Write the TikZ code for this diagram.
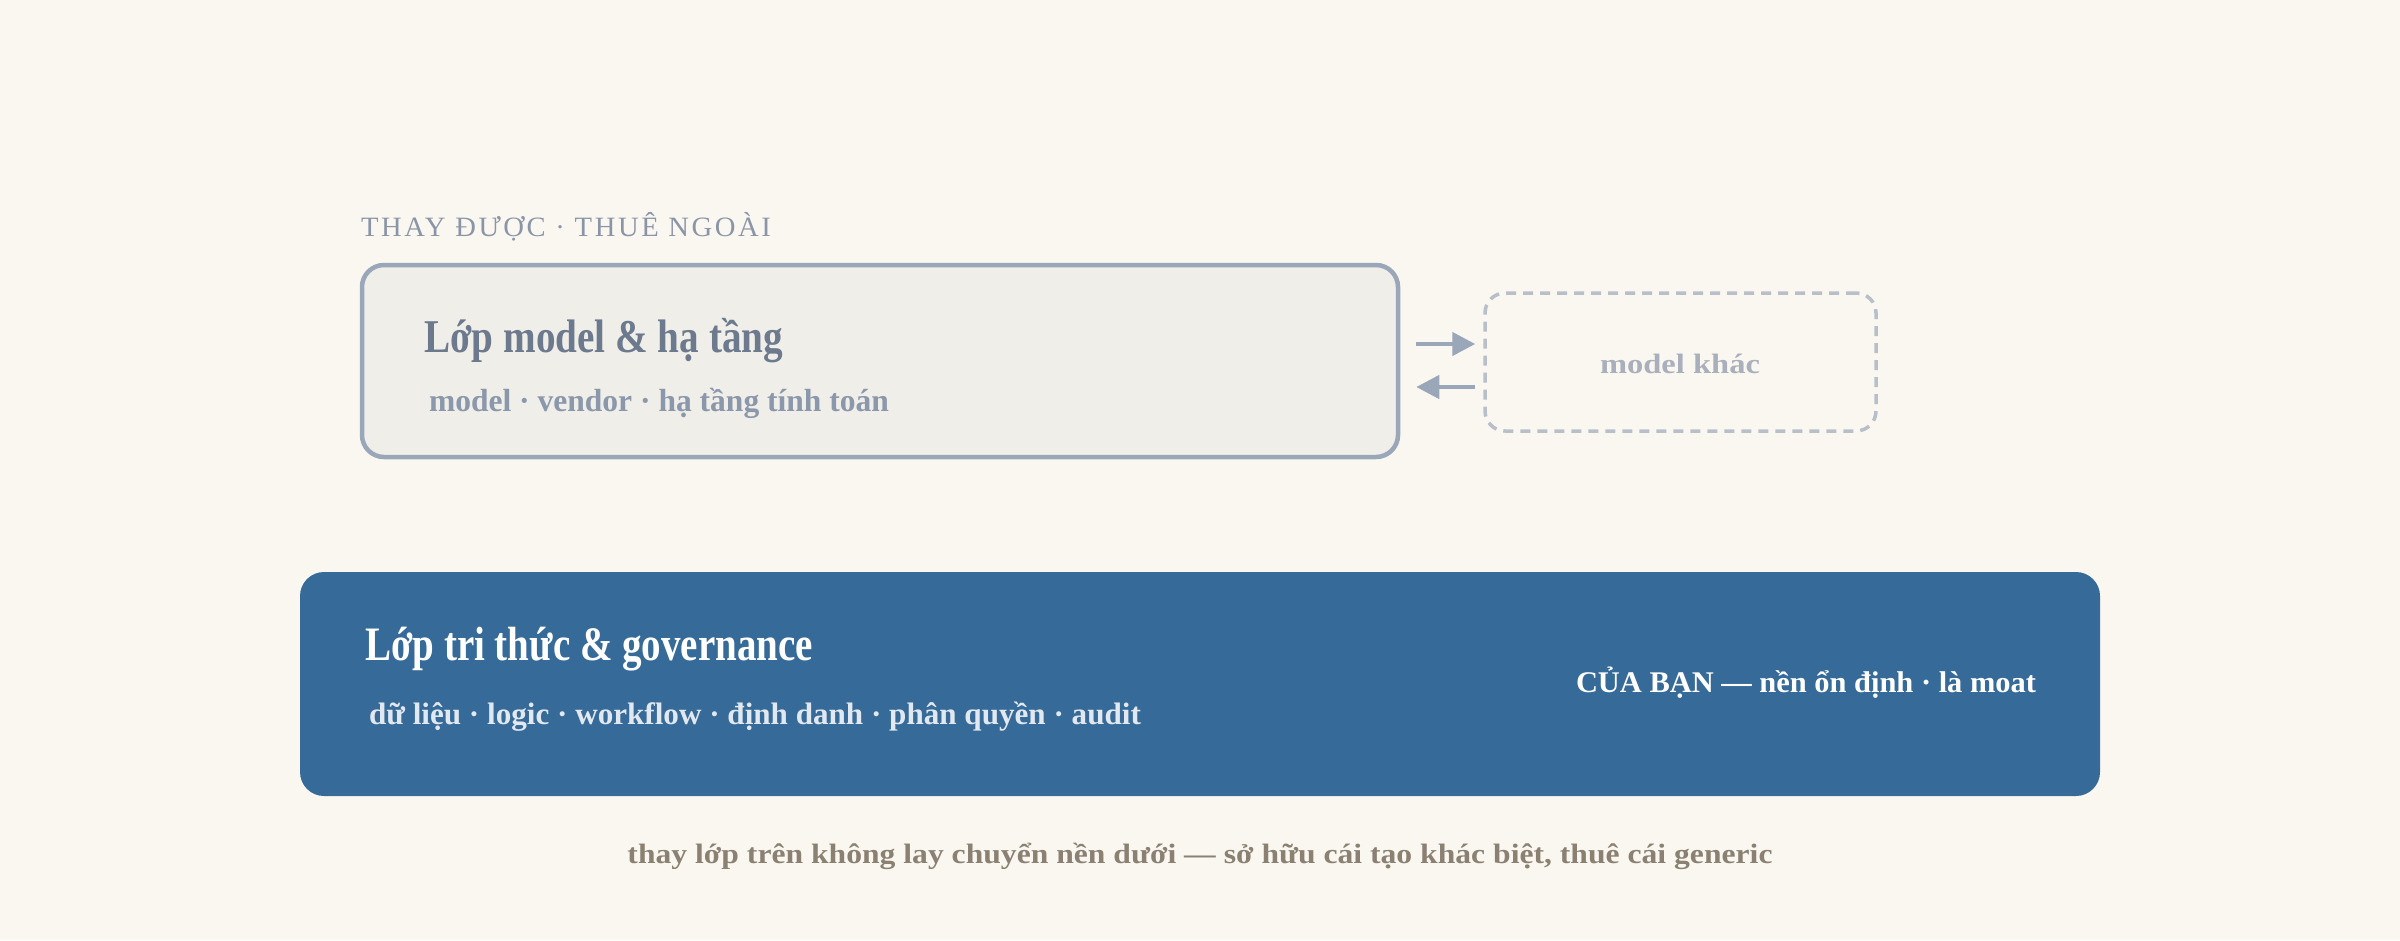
\documentclass[tikz,border=0pt]{standalone}
\usepackage{fontspec}
\usepackage{graphicx}
\setmainfont{Liberation Serif}
\usetikzlibrary{arrows.meta}
\definecolor{bg}{HTML}{FAF7F0}
\definecolor{topfill}{HTML}{EFEEE9}
\definecolor{topline}{HTML}{9AA7B9}
\definecolor{toptitle}{HTML}{6D7A8E}
\definecolor{topsub}{HTML}{8B97AA}
\definecolor{labelc}{HTML}{8A95A7}
\definecolor{altline}{HTML}{B9BFC9}
\definecolor{alttext}{HTML}{A9B0BC}
\definecolor{basefill}{HTML}{366A98}
\definecolor{basesub}{HTML}{E2E8F0}
\definecolor{capc}{HTML}{8A8173}
\newcommand\fitw[2]{\resizebox{#1pt}{\height}{#2}}
\tikzset{
  txt/.style={inner sep=0pt, outer sep=0pt},
  topbox/.style={draw=topline, fill=topfill, line width=4.5pt, rounded corners=22pt,
    minimum width=1036pt, minimum height=192pt, inner sep=0pt},
  altbox/.style={draw=altline, line width=3.5pt, dash pattern=on 10pt off 7pt, rounded corners=20pt,
    minimum width=391pt, minimum height=138pt, inner sep=0pt},
  basebox/.style={fill=basefill, rounded corners=24pt,
    minimum width=1800pt, minimum height=224pt, inner sep=0pt},
  arr/.style={draw=topline, line width=4.5pt, -{Triangle[length=23pt,width=23pt]}},
}
\begin{document}
\begin{tikzpicture}[x=1pt,y=-1pt]
\useasboundingbox (0,0) rectangle (2400,940);
\fill[bg] (0,0) rectangle (2400,940);

% boxes
\node[topbox] (top) at (880,361) {};
\node[altbox] (alt) at (1680.5,362) {};
\node[basebox] (base) at (1200,684) {};

% label above top box
\node[txt, anchor=base west, text=labelc] (lbl) at (361,236)
  {\fitw{410}{\fontsize{28}{32}\selectfont\addfontfeatures{LetterSpace=9}THAY ĐƯỢC · THUÊ NGOÀI}};

% top box texts
\node[txt, anchor=base west, text=toptitle] (ttitle) at (424,352)
  {\fitw{359}{\fontsize{47}{54}\selectfont\bfseries Lớp model \& hạ tầng}};
\node[txt, anchor=base west, text=topsub] (tsub) at (429,411)
  {\fitw{460}{\fontsize{32}{38}\selectfont\bfseries model · vendor · hạ tầng tính toán}};

% alt box text
\node[txt, anchor=base, text=alttext] (atext) at (1680,373)
  {\fitw{160}{\fontsize{28}{34}\selectfont\bfseries model khác}};

% arrows
\draw[arr] ([shift={(16,-17)}]top.east) -- ([shift={(-8,-18)}]alt.west);
\draw[arr] ([shift={(-8,25)}]alt.west) -- ([shift={(16,26)}]top.east);

% base box texts
\node[txt, anchor=base west, text=white] (btitle) at (365,660)
  {\fitw{448}{\fontsize{48}{56}\selectfont\bfseries Lớp tri thức \& governance}};
\node[txt, anchor=base west, text=basesub] (bsub) at (369,724)
  {\fitw{772}{\fontsize{31}{37}\selectfont\bfseries dữ liệu · logic · workflow · định danh · phân quyền · audit}};
\node[txt, anchor=base east, text=white] (bright) at (2036,692)
  {\fitw{460}{\fontsize{30}{36}\selectfont\bfseries CỦA BẠN — nền ổn định · là moat}};

% caption
\node[txt, anchor=base, text=capc] (cap) at (1200,863)
  {\fitw{1145}{\fontsize{28}{34}\selectfont\bfseries thay lớp trên không lay chuyển nền dưới — sở hữu cái tạo khác biệt, thuê cái generic}};
\end{tikzpicture}
\end{document}
